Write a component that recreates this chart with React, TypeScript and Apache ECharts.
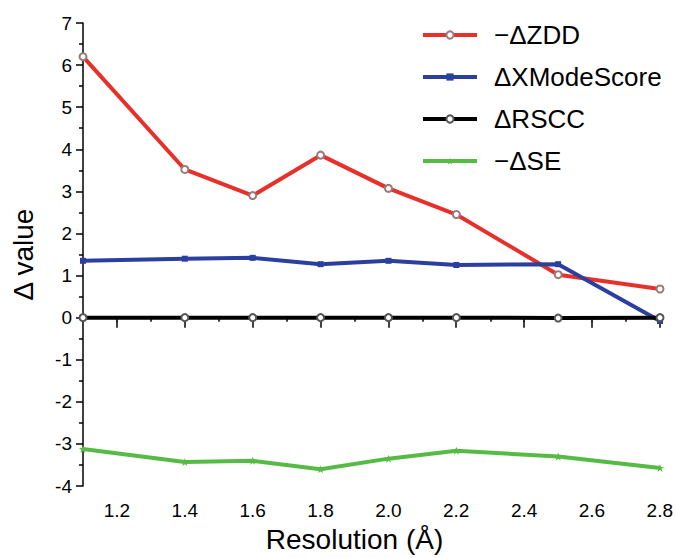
import React, { useEffect, useRef } from "react";
import * as echarts from "echarts";

const resolutions = [1.1, 1.4, 1.6, 1.8, 2.0, 2.2, 2.5, 2.8];
const zdd = [6.2, 3.52, 2.9, 3.86, 3.07, 2.45, 1.02, 0.68];
const xmode = [1.35, 1.4, 1.42, 1.27, 1.35, 1.25, 1.27, -0.08];
const rscc = [0, 0, 0, 0, 0, 0, -0.01, 0];
const se = [-3.12, -3.43, -3.4, -3.6, -3.35, -3.16, -3.3, -3.57];
const seriesNames = ["\u2212\u0394ZDD", "\u0394XModeScore", "\u0394RSCC", "\u2212\u0394SE"];

const FONT = "Liberation Sans, Arial, sans-serif";
const STAR = "path://M0,-10L2.35,-3.24L9.51,-3.09L3.8,1.24L5.88,8.09L0,4L-5.88,8.09L-3.8,1.24L-9.51,-3.09L-2.35,-3.24Z";

const pairs = (ys: number[]) => resolutions.map((x, i) => [x, ys[i]]);

export default function App() {
  const ref = useRef<HTMLDivElement>(null);
  useEffect(() => {
    if (!ref.current) return;
    const chart = echarts.init(ref.current, null, { renderer: "svg" });
    const gridLeft = 83;
    const gridRight = 16;
    const plotW = 676 - gridLeft - gridRight;
    const step = plotW / 17;
    const top = 23;
    const bottom = 67;
    const axisLine = { show: true, lineStyle: { color: "#000", width: 1.5 } };
    chart.setOption({
      animation: false,
      backgroundColor: "#fff",
      grid: [
        { left: gridLeft, right: gridRight, top, bottom },
        { left: gridLeft + step, right: gridRight, top, bottom },
      ],
      legend: {
        orient: "vertical",
        left: 416,
        top: 17,
        itemWidth: 54,
        itemHeight: 9,
        itemGap: 16,
        lineStyle: { width: 4 },
        textStyle: { fontFamily: FONT, fontSize: 26, color: "#000", padding: [0, 0, 0, 12] },
        data: seriesNames,
      },
      xAxis: [
        {
          type: "value",
          gridIndex: 0,
          min: 1.1,
          max: 2.8,
          interval: 0.1,
          axisLine,
          axisTick: { show: true, length: 4, lineStyle: { color: "#000", width: 1.5 } },
          axisLabel: { show: false },
          splitLine: { show: false },
          name: "Resolution (\u00c5)",
          nameLocation: "middle",
          nameGap: 39,
          nameTextStyle: { fontFamily: FONT, fontSize: 28, color: "#000", padding: [0, 34, 0, 0] },
        },
        {
          type: "value",
          gridIndex: 1,
          min: 1.2,
          max: 2.8,
          interval: 0.2,
          axisLine: { show: false },
          axisTick: { show: true, length: 7, lineStyle: { color: "#000", width: 1.5 } },
          axisLabel: {
            fontFamily: FONT,
            fontSize: 19,
            color: "#000",
            margin: 10,
            formatter: (v: number) => v.toFixed(1),
          },
          splitLine: { show: false },
        },
      ],
      yAxis: [
        {
          type: "value",
          gridIndex: 0,
          min: -4,
          max: 7,
          interval: 1,
          axisLine,
          axisTick: { show: true, length: 7, lineStyle: { color: "#000", width: 1.5 } },
          minorTick: { show: true, splitNumber: 2, length: 4, lineStyle: { color: "#000", width: 1.5 } },
          axisLabel: { fontFamily: FONT, fontSize: 19, color: "#000", margin: 11 },
          splitLine: { show: false },
          name: "\u0394 value",
          nameLocation: "middle",
          nameGap: 46,
          nameTextStyle: { fontFamily: FONT, fontSize: 28, color: "#000" },
        },
        {
          type: "value",
          gridIndex: 1,
          min: -4,
          max: 7,
          show: false,
        },
      ],
      series: [
        {
          name: seriesNames[0],
          type: "line",
          data: pairs(zdd),
          symbol: "emptyCircle",
          symbolSize: 7,
          lineStyle: { color: "#e8302a", width: 4 },
          itemStyle: { color: "#9a7a7a", borderWidth: 1 },
        },
        {
          name: seriesNames[1],
          type: "line",
          data: pairs(xmode),
          symbol: "rect",
          symbolSize: 6,
          lineStyle: { color: "#2b3f9e", width: 4 },
          itemStyle: { color: "#2b3f9e" },
        },
        {
          name: seriesNames[2],
          type: "line",
          data: pairs(rscc),
          symbol: "emptyCircle",
          symbolSize: 7,
          lineStyle: { color: "#000", width: 4 },
          itemStyle: { color: "#555", borderWidth: 1 },
        },
        {
          name: seriesNames[3],
          type: "line",
          data: pairs(se),
          symbol: STAR,
          symbolSize: 8,
          lineStyle: { color: "#55bb44", width: 4 },
          itemStyle: { color: "#55bb44" },
        },
      ],
    });
    return () => chart.dispose();
  }, []);
  return (
    <div
      ref={ref}
      style={{ position: "fixed", left: 0, top: 0, width: 676, height: 558 }}
    />
  );
}
